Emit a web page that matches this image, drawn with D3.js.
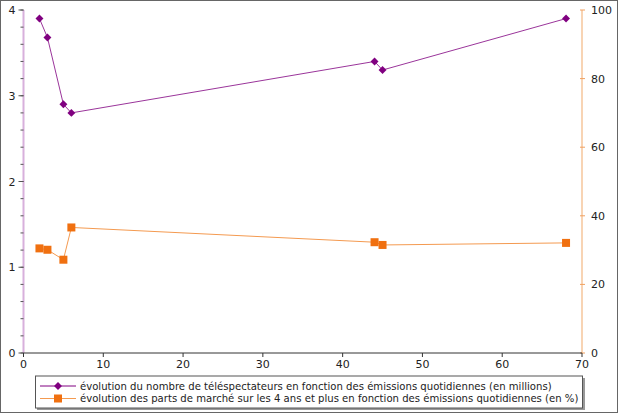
<!DOCTYPE html>
<html><head><meta charset="utf-8">
<script src="https://cdn.jsdelivr.net/npm/d3@7"></script>
<style>body{margin:0;background:#fff}svg{display:block;font-family:"DejaVu Sans",sans-serif}</style>
</head><body><svg id="c" width="619" height="414"></svg>
<script>
const xValues = [2, 3, 5, 6, 44, 45, 68];
const viewers = [3.9, 3.68, 2.9, 2.8, 3.4, 3.3, 3.9];
const shares = [30.5, 30.1, 27.2, 36.6, 32.3, 31.5, 32.1];
const xTicks = [0, 10, 20, 30, 40, 50, 60, 70];
const leftTicks = [0, 1, 2, 3, 4];
const rightTicks = [0, 20, 40, 60, 80, 100];
const seriesNames = [
  "évolution du nombre de téléspectateurs en fonction des émissions quotidiennes (en millions)",
  "évolution des parts de marché sur les 4 ans et plus en fonction des émissions quotidiennes (en %)"
];
const purple = "#800080", orange = "#f07010";

const svg = d3.select("#c");
svg.append("rect").attr("x",0.5).attr("y",0.5).attr("width",617).attr("height",412)
  .attr("fill","#fff").attr("stroke","#666");

const x = d3.scaleLinear().domain([0,70]).range([23.5,582]);
const yL = d3.scaleLinear().domain([0,4]).range([353,10]);
const yR = d3.scaleLinear().domain([0,100]).range([353,10]);

// left axis
const gL = svg.append("g").attr("transform","translate(23.5,0)");
gL.append("line").attr("y1",yL(0)).attr("y2",yL(4)).attr("stroke","#d8b0dc").attr("stroke-width",2);
gL.selectAll(".mn").data(d3.range(0,4.01,0.2)).join("line")
  .attr("x1",-3).attr("x2",0).attr("y1",d=>yL(d)).attr("y2",d=>yL(d)).attr("stroke","#555").attr("stroke-width",1);
gL.selectAll(".mj").data(leftTicks).join("line")
  .attr("x1",-5).attr("x2",0).attr("y1",d=>yL(d)).attr("y2",d=>yL(d)).attr("stroke","#555");
gL.selectAll("text").data(leftTicks).join("text")
  .attr("x",-8).attr("y",d=>yL(d)+4).attr("text-anchor","end").attr("font-size",11).attr("fill","#222").text(d=>d);

// right axis
const gR = svg.append("g").attr("transform","translate(582,0)");
gR.append("line").attr("y1",yR(0)).attr("y2",yR(100)).attr("stroke","#f8d4b4").attr("stroke-width",2);
gR.selectAll("line.t").data(rightTicks).join("line").attr("class","t")
  .attr("x1",-2).attr("x2",3).attr("y1",d=>yR(d)).attr("y2",d=>yR(d)).attr("stroke","#f0a060");
gR.selectAll("text").data(rightTicks).join("text")
  .attr("x",9).attr("y",d=>yR(d)+4).attr("font-size",11).attr("fill","#222").text(d=>d);

// x axis
const gX = svg.append("g").attr("transform","translate(0,353)");
gX.append("line").attr("x1",x(0)).attr("x2",x(70)).attr("stroke","#333");
gX.selectAll("line.t").data(xTicks).join("line").attr("class","t")
  .attr("x1",d=>x(d)).attr("x2",d=>x(d)).attr("y1",0).attr("y2",4).attr("stroke","#333");
gX.selectAll("text").data(xTicks).join("text")
  .attr("x",d=>x(d)).attr("y",15).attr("text-anchor","middle").attr("font-size",11).attr("fill","#222").text(d=>d);

// series
const d1 = xValues.map((v,i)=>[v,viewers[i]]);
const d2 = xValues.map((v,i)=>[v,shares[i]]);
svg.append("path").datum(d1).attr("fill","none").attr("stroke",purple).attr("stroke-width",0.8)
  .attr("d",d3.line().x(d=>x(d[0])).y(d=>yL(d[1])));
svg.append("path").datum(d2).attr("fill","none").attr("stroke","#f49a50").attr("stroke-width",1)
  .attr("d",d3.line().x(d=>x(d[0])).y(d=>yR(d[1])));
const diamond = d3.symbol().type(d3.symbolDiamond2).size(40);
svg.selectAll("path.dm").data(d1).join("path").attr("class","dm")
  .attr("transform",d=>`translate(${x(d[0])},${yL(d[1])})`).attr("d",diamond).attr("fill",purple);
svg.selectAll("rect.sq").data(d2).join("rect").attr("class","sq")
  .attr("x",d=>x(d[0])-4).attr("y",d=>yR(d[1])-4).attr("width",8).attr("height",8).attr("fill",orange);

// legend
const lg = svg.append("g");
lg.append("rect").attr("x",37).attr("y",378).attr("width",548).attr("height",32).attr("fill","#999");
lg.append("rect").attr("x",35.5).attr("y",376).attr("width",547).attr("height",32).attr("fill","#fff").attr("stroke","#555");
seriesNames.forEach((n,i)=>{
  const yy = 386 + i*12.5;
  lg.append("line").attr("x1",40).attr("x2",76).attr("y1",yy).attr("y2",yy)
    .attr("stroke", i===0?purple:"#f49a50").attr("stroke-width",1);
  if(i===0) lg.append("path").attr("transform",`translate(58,${yy})`).attr("d",diamond).attr("fill",purple);
  else lg.append("rect").attr("x",54).attr("y",yy-4).attr("width",8).attr("height",8).attr("fill",orange);
  lg.append("text").attr("x",80).attr("y",yy+3.5).attr("font-size",10.1).attr("fill","#222").text(n);
});
</script></body></html>
